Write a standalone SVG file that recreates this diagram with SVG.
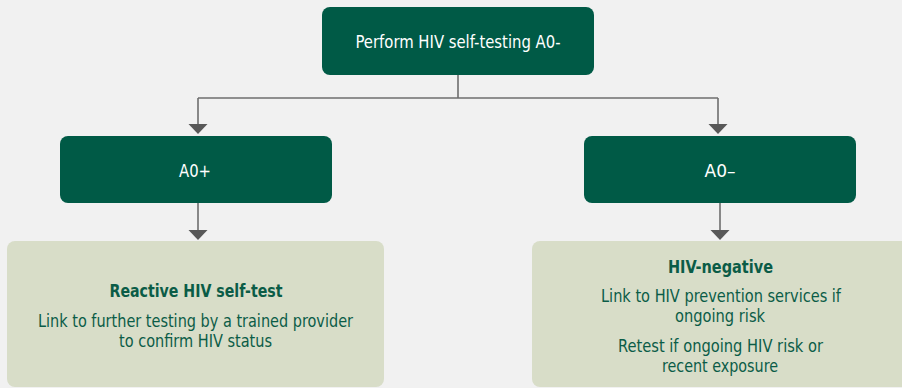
<svg xmlns="http://www.w3.org/2000/svg" width="902" height="388" viewBox="0 0 902 388">
  <style>
    .bg { fill: #f1f1f1; }
    .dark { fill: #005a46; }
    .light { fill: #d8ddc8; }
    .t { font-family: "Liberation Sans Narrow", "DejaVu Sans Condensed", "Liberation Sans", sans-serif; font-size: 17px; text-anchor: middle; }
    .w { fill: #ffffff; }
    .g { fill: #0b5c47; }
    .b { font-weight: bold; }
    .conn { fill: none; stroke: #6e6e6e; stroke-width: 1.6; }
    .head { fill: #585858; }
  </style>
  <rect class="bg" x="0" y="0" width="902" height="388"/>

  <g id="connectors">
    <path class="conn" d="M458,75 V98"/>
    <path class="conn" d="M198,98 H718"/>
    <path class="conn" d="M198,98 V124"/>
    <path class="conn" d="M718,98 V124"/>
    <path class="conn" d="M198,203 V230"/>
    <path class="conn" d="M720,203 V230"/>
    <polygon class="head" points="188.5,124 207.5,124 198,134"/>
    <polygon class="head" points="708.5,124 727.5,124 718,134"/>
    <polygon class="head" points="188.5,230 207.5,230 198,240"/>
    <polygon class="head" points="710.5,230 729.5,230 720,240"/>
  </g>

  <g id="node-start">
    <rect class="dark" x="322" y="7" width="272" height="68" rx="8"/>
    <text class="t w" x="458" y="48" textLength="205" lengthAdjust="spacingAndGlyphs">Perform HIV self-testing A0-</text>
  </g>

  <g id="node-pos">
    <rect class="dark" x="60" y="136" width="272" height="67" rx="8"/>
    <text class="t w" x="195" y="177" textLength="32" lengthAdjust="spacingAndGlyphs">A0+</text>
  </g>

  <g id="node-neg">
    <rect class="dark" x="584" y="136" width="272" height="67" rx="8"/>
    <text class="t w" x="720" y="177" textLength="31" lengthAdjust="spacingAndGlyphs">A0–</text>
  </g>

  <g id="node-reactive">
    <rect class="light" x="7" y="241" width="377" height="146" rx="8"/>
    <text class="t g b" x="196" y="297" textLength="173" lengthAdjust="spacingAndGlyphs">Reactive HIV self-test</text>
    <text class="t g" x="195.5" y="327" textLength="315" lengthAdjust="spacingAndGlyphs">Link to further testing by a trained provider</text>
    <text class="t g" x="195.5" y="347" textLength="153" lengthAdjust="spacingAndGlyphs">to confirm HIV status</text>
  </g>

  <g id="node-negative">
    <rect class="light" x="532" y="241" width="377" height="146" rx="8"/>
    <text class="t g b" x="720.5" y="273" textLength="105" lengthAdjust="spacingAndGlyphs">HIV-negative</text>
    <text class="t g" x="721" y="302" textLength="240" lengthAdjust="spacingAndGlyphs">Link to HIV prevention services if</text>
    <text class="t g" x="720" y="322" textLength="90" lengthAdjust="spacingAndGlyphs">ongoing risk</text>
    <text class="t g" x="720.5" y="352" textLength="205" lengthAdjust="spacingAndGlyphs">Retest if ongoing HIV risk or</text>
    <text class="t g" x="720" y="372" textLength="116" lengthAdjust="spacingAndGlyphs">recent exposure</text>
  </g>
</svg>
